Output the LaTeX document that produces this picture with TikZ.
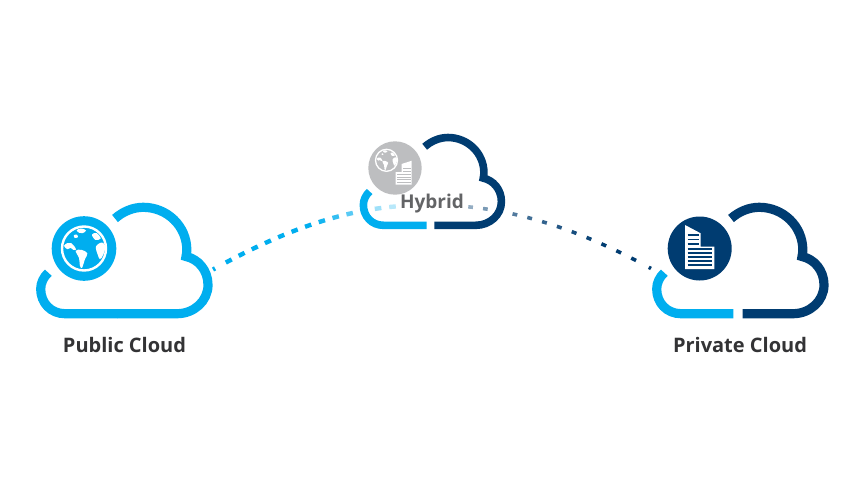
\documentclass[tikz,border=0pt]{standalone}
\usepackage{fontspec}
\setmainfont{Open Sans}
\definecolor{cyanc}{HTML}{00AEEF}
\definecolor{navyc}{HTML}{003C71}
\definecolor{grayc}{HTML}{BDBEC0}
\definecolor{labelc}{HTML}{333335}
\definecolor{hybc}{HTML}{636466}
\tikzset{
  cloudlabel/.style={font=\fontsize{20}{22}\selectfont\bfseries,text=labelc,inner sep=0pt},
  badge/.style={circle,inner sep=0pt,draw=none},
}
% #1 shift, #2 scale, #3 width, #4 colour of the right part, #5 start x of the right part
\newcommand{\mycloud}[5]{%
  \begin{scope}[shift={#1},scale=#2,line width=#3,line cap=butt,line join=miter,miter limit=10]
    \draw[cyanc] (48.3,272.7) .. controls (43.5,277) and (40.7,283) .. (40.7,289)
       .. controls (40.7,303) and (51,313.7) .. (65,313.7) -- (117.3,313.7);
    \draw[#4] (#5,313.7) -- (177,313.7) .. controls (194,313.7) and (208,301) .. (208,285)
       .. controls (208,270) and (198,259) .. (186,256.5)
       .. controls (186.5,254) and (186.8,252) .. (186.8,250)
       .. controls (186.8,226) and (167,207.3) .. (143.3,207.3)
       .. controls (133,207.3) and (123,211.5) .. (115,218.5);
  \end{scope}}
% #1 centre, #2 scale, #3 ocean colour, #4 ring width
\newcommand{\myglobe}[4]{%
  \begin{scope}[shift={#1},scale=#2]
    \fill[#3] (0,0) circle (68);
    \draw[white,line width=#4] (0,0) circle (66);
    \begin{scope}
      \clip (0,0) circle (64);
      \fill[white] plot[smooth cycle,tension=.6] coordinates {(-60,-8)(-50,-16)(-38,-16)(-30,-8)(-24,3)(-32,4)(-40,-2)(-50,2)};
      \fill[white] plot[smooth cycle,tension=.6] coordinates {(-25,7)(-8,4)(10,14)(3,32)(-6,58)(-12,52)(-15,28)};
      \fill[white] plot[smooth cycle,tension=.6] coordinates {(-22,-55)(-8,-60)(6,-54)(-4,-46)(-14,-47)};
      \fill[white] plot[smooth cycle,tension=.6] coordinates {(-30,-40)(-22,-42)(-18,-34)(-28,-32)};
      \fill[white] plot[smooth cycle,tension=.6] coordinates {(36,-6)(54,-18)(64,-6)(58,18)(48,32)(41,18)};
      \fill[white] plot[smooth cycle,tension=.6] coordinates {(24,-42)(38,-46)(50,-30)(34,-26)};
    \end{scope}
  \end{scope}}
\begin{document}
\begin{tikzpicture}[x=1pt,y=-1pt]
  \useasboundingbox (0,0) rectangle (864,487);
  \fill[white] (0,0) rectangle (864,487);

  % connector end points and curve handles
  \coordinate (pubEnd) at (213,269.5);
  \coordinate (pubC1) at (270,238);
  \coordinate (pubC2) at (330,212);
  \coordinate (hybL) at (395,206.5);
  \coordinate (hybR) at (470,207);
  \coordinate (privC1) at (530,213);
  \coordinate (privC2) at (590,235);
  \coordinate (privEnd) at (651,268.5);

  % left dashed connector
  \foreach \i/\mix/\len in {0/100/.012,1/100/.034,2/100/.034,3/100/.034,4/100/.034,5/100/.034,6/100/.034,7/100/.034,8/92/.034,9/80/.034,10/65/.034,11/50/.034,12/38/.034,13/28/.034}{
    \pgfmathsetmacro{\tA}{\i/13.4}
    \pgfmathsetmacro{\tB}{\tA+\len}
    \path (pubEnd) .. controls (pubC1) and (pubC2) .. (hybL)
      coordinate[pos=\tA] (pa) coordinate[pos=\tB] (pb);
    \draw[cyanc!\mix!white,line width=4.4pt] (pa) -- (pb);
  }
  % right dashed connector
  \foreach \i/\mix/\len in {0/42/.026,1/52/.026,2/60/.026,3/68/.026,4/74/.026,5/80/.026,6/86/.026,7/91/.026,8/95/.026,9/100/.026,10/100/.026,11/100/.026,12/100/.012}{
    \pgfmathsetmacro{\tA}{1-(12-\i)/12.2-\len}
    \pgfmathsetmacro{\tB}{\tA+\len}
    \path (hybR) .. controls (privC1) and (privC2) .. (privEnd)
      coordinate[pos=\tA] (pa) coordinate[pos=\tB] (pb);
    \draw[navyc!\mix!white,line width=3.6pt] (pa) -- (pb);
  }

  % clouds
  \mycloud{(0,0)}{1}{9.2pt}{cyanc}{117}
  \mycloud{(329.8,-33.5)}{.825}{7.6pt}{navyc}{126.7}
  \mycloud{(616,0)}{1}{9.2pt}{navyc}{126.7}

  % public badge
  \node[badge,fill=cyanc,minimum size=64.6pt] (pubBadge) at (84,248.5) {};
  \myglobe{(pubBadge.center)}{1/3}{cyanc}{2.4pt}

  % hybrid badge
  \node[badge,fill=grayc,minimum size=53.4pt] (hybBadge) at (395,168) {};
  \myglobe{(386.5,160.3)}{1/6}{grayc}{1.3pt}
  \fill[white] (395.7,184.7) -- (395.7,172) -- (401.7,172) -- (401.7,164) -- (411.7,160.7) -- (411.7,184.7) -- cycle;
  \foreach \y in {168,171}{\draw[grayc,line width=.7pt] (403,\y) -- (410.5,\y);}
  \foreach \y in {174.5,177,179.5,182}{\draw[grayc,line width=.7pt] (397,\y) -- (410.5,\y);}

  % private badge
  \node[badge,fill=navyc,minimum size=64pt] (privBadge) at (699.7,248.5) {};
  \fill[white] (685,225) -- (700.7,233.3) -- (700.7,246.7) -- (714.3,246.7) -- (714.3,269) -- (685,269) -- cycle;
  \foreach \y in {235,239.5,244}{\draw[navyc,line width=1.8pt] (687.7,\y) -- (699.3,\y);}
  \foreach \y in {249.3,253.3,257.3,261.3,265.3}{\draw[navyc,line width=1.8pt] (687.7,\y) -- (711.7,\y);}

  % labels
  \node[cloudlabel] (pubLabel) at (124.5,345) {Public Cloud};
  \node[cloudlabel] (privLabel) at (740,345) {Private Cloud};
  \node[cloudlabel,text=hybc,font=\fontsize{19}{21}\selectfont\bfseries] (hybLabel) at (432,204) {Hybrid};
\end{tikzpicture}
\end{document}
